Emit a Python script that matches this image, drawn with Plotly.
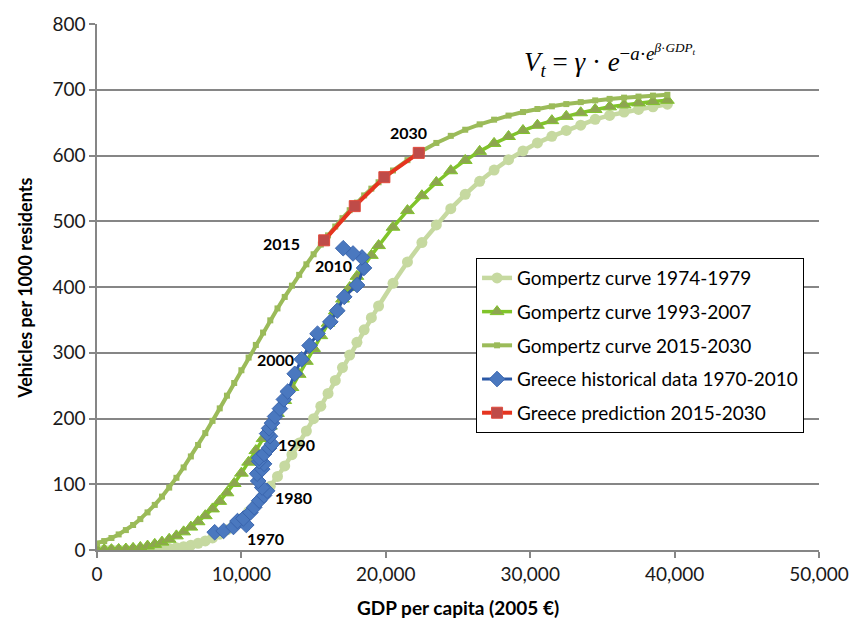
import plotly.graph_objects as go

# ---------------- data ----------------
gdp_grid = [0, 500, 1000, 1500, 2000, 2500, 3000, 3500, 4000, 4500, 5000, 5500, 6000, 6500,
            7000, 7500, 8000, 8500, 9000, 9500, 10000, 10500, 11000, 11500, 12000, 12500,
            13000, 13500, 14000, 14500, 15000, 15500, 16000, 16500, 17000, 17500, 18000,
            18500, 19000, 19500, 20500, 21500, 22500, 23500, 24500, 25500, 26500, 27500,
            28500, 29500, 30500, 31500, 32500, 33500, 34500, 35500, 36500, 37500, 38500, 39500]

gompertz_7479 = [0.0, 0.0, 0.0, 0.0, 0.1, 0.2, 0.3, 0.5, 0.9, 1.4, 2.2, 3.4, 5.1, 7.3, 10.1,
                 13.8, 18.4, 24.1, 30.8, 38.8, 47.9, 58.3, 69.9, 82.8, 96.8, 111.9, 127.9,
                 144.9, 162.6, 181.0, 199.8, 218.8, 238.2, 257.9, 277.4, 296.6, 315.8, 334.8,
                 353.3, 371.1, 405.6, 438.1, 467.5, 494.4, 519.2, 541.0, 560.8, 577.9, 593.7,
                 606.9, 619.2, 629.1, 638.2, 646.1, 655.0, 661.0, 666.0, 670.0, 674.0, 678.0]

gompertz_9307 = [0.2, 0.3, 0.5, 0.9, 1.5, 2.5, 3.9, 6.0, 8.6, 12.0, 16.3, 21.5, 27.6, 34.8,
                 43.0, 52.2, 62.5, 74.0, 87.0, 101.2, 116.9, 133.6, 151.2, 169.5, 188.4,
                 207.7, 227.4, 247.2, 267.2, 287.0, 306.6, 326.0, 345.0, 363.6, 381.7, 399.2,
                 416.2, 432.4, 448.1, 463.0, 490.9, 516.2, 538.8, 559.0, 576.8, 592.5, 606.3,
                 618.4, 628.9, 638.0, 646.0, 653.0, 659.5, 665.0, 670.0, 674.0, 677.0, 680.0,
                 682.0, 684.0]

gompertz_1530 = [10.0, 13.6, 18.2, 23.7, 30.3, 38.0, 47.0, 57.2, 68.6, 81.2, 94.9, 109.8,
                 125.6, 142.3, 159.7, 177.8, 196.4, 215.4, 234.7, 254.0, 273.4, 292.7, 311.9,
                 330.7, 349.3, 367.4, 384.9, 402.0, 418.5, 434.5, 449.8, 464.5, 478.5, 492.0,
                 504.7, 516.8, 528.4, 539.3, 549.6, 559.3, 577.2, 592.9, 606.9, 619.1, 629.9,
                 639.2, 647.4, 654.5, 660.7, 666.1, 670.7, 674.8, 678.2, 681.2, 683.8, 686.1,
                 688.0, 689.6, 691.1, 692.4]

hist_years = list(range(1970, 2011))
hist_gdp = [8150, 8770, 9450, 10340, 9730, 10140, 10620, 10890, 11230, 11570, 11780, 11440,
            11160, 11090, 11440, 11570, 11230, 11230, 11570, 11920, 12120, 11980, 11780,
            11920, 12120, 12330, 12670, 12940, 13210, 13690, 14170, 14720, 15270, 16160,
            16640, 17120, 18010, 18490, 18350, 17730, 17050]
hist_vehicles = [27, 29, 35, 38, 44, 48, 57, 65, 75, 83, 90, 95, 105, 116, 123, 131, 135, 140,
                 146, 155, 161, 173, 177, 185, 193, 203, 215, 229, 241, 268, 290, 311, 329,
                 347, 364, 385, 403, 429, 445, 451, 459]

pred_years = [2015, 2020, 2025, 2030]
pred_gdp = [15730, 17850, 19900, 22280]
pred_vehicles = [471, 523, 567, 604]

series_names = ["Gompertz curve 1974-1979", "Gompertz curve 1993-2007",
                "Gompertz curve 2015-2030", "Greece historical data 1970-2010",
                "Greece prediction 2015-2030"]

year_labels = ["1970", "1980", "1990", "2000", "2010", "2015", "2030"]
year_label_pos = [(11640, 18), (13630, 80), (13830, 161), (12330, 290), (16370, 433),
                  (12800, 466), (21570, 635)]

x_ticks = [0, 10000, 20000, 30000, 40000, 50000]
y_ticks = [0, 100, 200, 300, 400, 500, 600, 700, 800]

# ---------------- figure ----------------
FONT = "Lato"
fig = go.Figure()

fig.add_trace(go.Scatter(
    x=gdp_grid, y=gompertz_7479, name=series_names[0], mode="lines+markers",
    line=dict(color="#C6D9A0", width=4.5),
    marker=dict(symbol="circle", size=11, color="#C6D9A0"),
    legendgroup="a"))
fig.add_trace(go.Scatter(
    x=gdp_grid, y=gompertz_9307, name=series_names[1], mode="lines+markers",
    line=dict(color="#80C42A", width=3.5),
    marker=dict(symbol="triangle-up", size=12, color="#8DA550",
                line=dict(color="#80C42A", width=1)),
    legendgroup="b"))
fig.add_trace(go.Scatter(
    x=gdp_grid, y=gompertz_1530, name=series_names[2], mode="lines+markers",
    line=dict(color="#9BBB59", width=4),
    marker=dict(symbol="square", size=6, color="#9BBB59"),
    legendgroup="c"))
fig.add_trace(go.Scatter(
    x=hist_gdp, y=hist_vehicles, name=series_names[3], mode="lines+markers",
    text=[str(y) for y in hist_years],
    line=dict(color="#2A58A6", width=3),
    marker=dict(symbol="diamond", size=12, color="#4A78BF",
                line=dict(color="#3A65AE", width=1)),
    legendgroup="d"))
fig.add_trace(go.Scatter(
    x=pred_gdp, y=pred_vehicles, name=series_names[4], mode="lines+markers",
    text=[str(y) for y in pred_years],
    line=dict(color="#E5341F", width=4),
    marker=dict(symbol="square", size=11, color="#BF4B48",
                line=dict(color="#E04A3C", width=1)),
    legendgroup="e"))

annotations = []
for lab, (gx, gv) in zip(year_labels, year_label_pos):
    annotations.append(dict(x=gx, y=gv, xref="x", yref="y", text="<b>%s</b>" % lab,
                            showarrow=False, font=dict(family=FONT, size=16, color="black")))

annotations.append(dict(
    x=0.832, y=0.93, xref="paper", yref="paper", showarrow=False, yanchor="middle",
    text="<i>V</i><sub><i>t</i></sub> = <i>γ</i> · <i>e</i><sup>−<i>a</i>·<i>e</i><sup><i>β</i>·<i>GDP</i><sub><i>t</i></sub></sup></sup>",
    font=dict(family="Liberation Serif", size=27, color="black")))

annotations.append(dict(x=0.5, y=-0.109, xref="paper", yref="paper", showarrow=False,
                        yanchor="middle",
                        text="<b>GDP per capita (2005 €)</b>",
                        font=dict(family=FONT, size=19, color="black")))
annotations.append(dict(x=-0.1, y=0.498, xref="paper", yref="paper", showarrow=False,
                        xanchor="center", yanchor="middle",
                        textangle=-90, text="<b>Vehicles per 1000 residents</b>",
                        font=dict(family=FONT, size=18, color="black")))

fig.update_layout(
    width=861, height=624,
    margin=dict(l=97, r=33, t=18, b=74),
    paper_bgcolor="white", plot_bgcolor="white",
    font=dict(family=FONT, size=19, color="#1a1a1a"),
    showlegend=True,
    legend=dict(x=0.525, y=0.555, xanchor="left", yanchor="top",
                bgcolor="white", bordercolor="black", borderwidth=1,
                font=dict(family=FONT, size=19, color="black"),
                tracegroupgap=6, traceorder="grouped"),
    annotations=annotations,
)
fig.update_xaxes(range=[0, 50000], tickvals=x_ticks, tickformat=",", showgrid=False,
                 zeroline=False, showline=True, linecolor="#868686", linewidth=1.5,
                 ticks="outside", ticklen=6, tickcolor="#868686", tickwidth=1.5)
fig.update_yaxes(range=[0, 800], tickvals=y_ticks, showgrid=True, gridcolor="#868686",
                 gridwidth=1.5, zeroline=False, showline=True, linecolor="#868686",
                 linewidth=1.5, ticks="outside", ticklen=6, tickcolor="#868686", tickwidth=1.5)

fig.write_html("out.html")
